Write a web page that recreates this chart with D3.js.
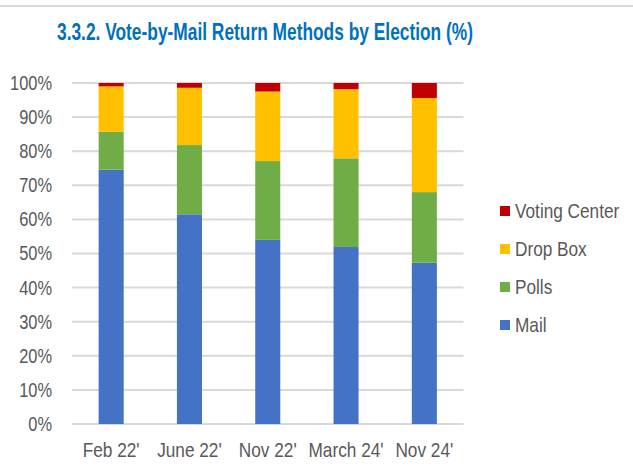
<!DOCTYPE html>
<html>
<head>
<meta charset="utf-8">
<script src="https://cdn.jsdelivr.net/npm/d3@7"></script>
<style>
  html, body { margin: 0; padding: 0; background: #fff; }
  svg { display: block; }
  text { font-family: "Liberation Sans", Arial, sans-serif; }
</style>
</head>
<body>
<script>
const categories = ["Feb 22'", "June 22'", "Nov 22'", "March 24'", "Nov 24'"];
const seriesNames = ["Mail", "Polls", "Drop Box", "Voting Center"];
const mail = [74.6, 61.5, 54.0, 51.9, 47.3];
const polls = [11.1, 20.3, 23.1, 26.0, 20.7];
const dropBox = [13.3, 16.8, 20.4, 20.3, 27.6];
const votingCenter = [1.0, 1.4, 2.5, 1.8, 4.4];
const yTicks = [0, 10, 20, 30, 40, 50, 60, 70, 80, 90, 100];
const title = "3.3.2. Vote-by-Mail Return Methods by Election (%)";

const colors = {"Mail": "#4472C4", "Polls": "#70AD47", "Drop Box": "#FFC000", "Voting Center": "#C00000"};
const seriesValues = {"Mail": mail, "Polls": polls, "Drop Box": dropBox, "Voting Center": votingCenter};

const W = 633, H = 473;
const svg = d3.select("body").append("svg").attr("width", W).attr("height", H);

// condense text to emulate a narrow font
function narrow(sel, k) {
  sel.each(function() {
    const w = this.getComputedTextLength();
    d3.select(this).attr("textLength", w * k).attr("lengthAdjust", "spacingAndGlyphs");
  });
}

// top divider line
svg.append("line").attr("x1", 0).attr("x2", W).attr("y1", 6).attr("y2", 6)
  .attr("stroke", "#d9d9d9").attr("stroke-width", 2);

svg.append("text").attr("x", 265).attr("y", 40).attr("text-anchor", "middle")
  .attr("fill", "#0070C0").attr("font-weight", "bold").attr("font-size", 24)
  .attr("textLength", 416).attr("lengthAdjust", "spacingAndGlyphs")
  .text(title);

const x = d3.scaleBand().domain(categories).range([72, 463.5]).paddingInner(0.68).paddingOuter(0.34);
const y = d3.scaleLinear().domain([0, 100]).range([424, 83]);

// gridlines
svg.append("g").selectAll("line").data(yTicks).join("line")
  .attr("x1", 72).attr("x2", 463.5)
  .attr("y1", d => y(d)).attr("y2", d => y(d))
  .attr("stroke", "#d9d9d9").attr("stroke-width", 2);

// y axis labels
const yAxis = d3.axisLeft(y).tickValues(yTicks).tickFormat(d => d + "%").tickSize(0).tickPadding(0);
const gy = svg.append("g").attr("transform", "translate(52,0)").call(yAxis);
gy.select(".domain").remove();
gy.selectAll("text").attr("font-size", 20).attr("fill", "#595959")
  .style("font-family", "'Liberation Sans', Arial, sans-serif").call(narrow, 0.82);

// stacked bars
const tableRows = categories.map((c, i) => {
  const r = {cat: c};
  seriesNames.forEach(s => r[s] = seriesValues[s][i]);
  return r;
});
const stack = d3.stack().keys(seriesNames)(tableRows);
svg.append("g").selectAll("g").data(stack).join("g")
  .attr("fill", d => colors[d.key])
  .selectAll("rect").data(d => d).join("rect")
  .attr("x", d => x(d.data.cat))
  .attr("width", x.bandwidth())
  .attr("y", d => y(d[1]))
  .attr("height", d => y(d[0]) - y(d[1]));

// x axis labels
const xAxis = d3.axisBottom(x).tickSize(0).tickPadding(0);
const gx = svg.append("g").attr("transform", "translate(0,456.5)").call(xAxis);
gx.select(".domain").remove();
gx.selectAll("text").attr("dy", "0").attr("y", 0).attr("font-size", 21).attr("fill", "#595959")
  .style("font-family", "'Liberation Sans', Arial, sans-serif").call(narrow, 0.82);

// legend
const legendOrder = ["Voting Center", "Drop Box", "Polls", "Mail"];
const lg = svg.append("g").selectAll("g").data(legendOrder).join("g")
  .attr("transform", (d, i) => `translate(500,${211 + i * 38})`);
lg.append("rect").attr("x", 0).attr("y", -5).attr("width", 10).attr("height", 10)
  .attr("fill", d => colors[d]);
lg.append("text").attr("x", 0).attr("y", 0).attr("dy", "0.35em")
  .attr("transform", "translate(15,0) scale(0.82,1)")
  .attr("font-size", 21).attr("fill", "#595959").text(d => d);
</script>
</body>
</html>
